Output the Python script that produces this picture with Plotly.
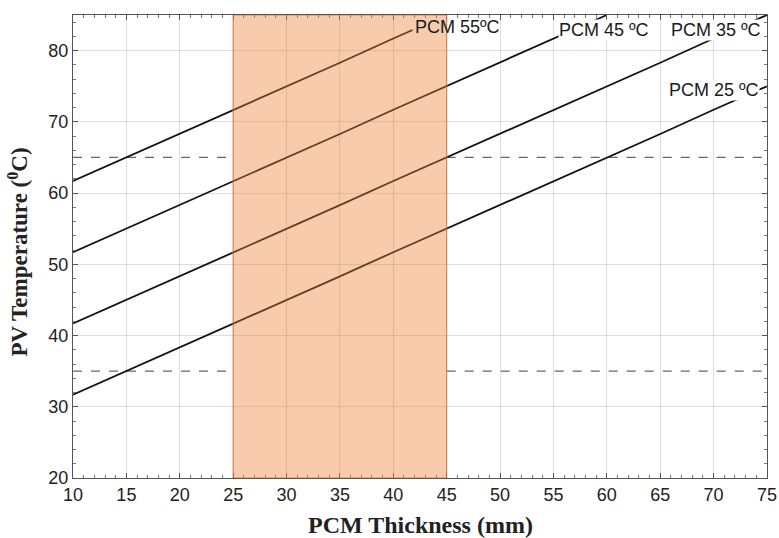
import plotly.graph_objects as go

# ---- data ----
thickness = [10, 15, 20, 25, 30, 35, 40, 45, 50, 55, 60, 65, 70, 75]
pcm25 = [31.7, 35.0, 38.3, 41.7, 45.0, 48.3, 51.7, 55.0, 58.3, 61.7, 65.0, 68.3, 71.7, 75.0]
pcm35 = [41.7, 45.0, 48.3, 51.7, 55.0, 58.3, 61.7, 65.0, 68.3, 71.7, 75.0, 78.3, 81.7, 85.0]
pcm45_x = [10, 15, 20, 25, 30, 35, 40, 45, 50, 55, 60]
pcm45 = [51.7, 55.0, 58.3, 61.7, 65.0, 68.3, 71.7, 75.0, 78.3, 81.7, 85.0]
pcm55_x = [10, 15, 20, 25, 30, 35, 40, 41.8]
pcm55 = [61.7, 65.0, 68.3, 71.7, 75.0, 78.3, 81.7, 82.9]

limits = [35, 65]            # dashed reference temperatures
optimal_range = [25, 45]     # shaded thickness range
x_range = [10, 75]
y_range = [20, 85]

labels = ["PCM 25 ºC", "PCM 35 ºC", "PCM 45 ºC", "PCM 55ºC"]
label_x = [65.7, 65.9, 55.4, 41.9]
label_y = [74.5, 82.9, 82.9, 83.3]
label_bg = ["white", "white", "white", "rgba(0,0,0,0)"]

x_title = "<b>PCM Thickness (mm)</b>"
y_title = "<b>PV Temperature (<sup>0</sup>C)</b>"

fig = go.Figure()

# dashed limit lines, interrupted by the shaded band
for lim in limits:
    fig.add_trace(go.Scatter(
        x=[x_range[0], optimal_range[0], None, optimal_range[1], x_range[1]],
        y=[lim, lim, None, lim, lim],
        mode="lines", line=dict(color="#666666", width=1.2, dash="dash"),
        showlegend=False, hoverinfo="skip"))

for xs, ys in [(thickness, pcm25), (thickness, pcm35), (pcm45_x, pcm45), (pcm55_x, pcm55)]:
    fig.add_trace(go.Scatter(x=xs, y=ys, mode="lines",
                             line=dict(color="#111111", width=1.8),
                             showlegend=False))

fig.add_shape(type="rect", xref="x", yref="y",
              x0=optimal_range[0], x1=optimal_range[1], y0=y_range[0], y1=y_range[1],
              fillcolor="rgba(237,125,49,0.40)",
              line=dict(color="rgba(205,110,55,0.75)", width=1.2),
              layer="above")

for t, lx, ly, bg in zip(labels, label_x, label_y, label_bg):
    fig.add_annotation(x=lx, y=ly, text=t, showarrow=False, xanchor="left", yanchor="middle",
                       font=dict(family="Liberation Sans, Arial", size=18, color="#1a1a1a"),
                       bgcolor=bg, borderpad=0)

title_font = dict(family="Liberation Serif, Times New Roman", size=24, color="#222222")
fig.add_annotation(xref="paper", yref="paper", x=0.5, y=0, yshift=-47, yanchor="middle",
                   text=x_title, showarrow=False, font=title_font)
fig.add_annotation(xref="paper", yref="paper", x=0, y=0.5, xshift=-55, yshift=-6,
                   xanchor="center", textangle=-90,
                   text=y_title, showarrow=False,
                   font=dict(family="Liberation Serif, Times New Roman", size=23, color="#222222"))

axis_common = dict(
    showline=True, linecolor="#555555", linewidth=1.2, mirror="ticks",
    showgrid=True, gridcolor="rgba(0,0,0,0.13)", gridwidth=1,
    ticks="inside", ticklen=5, tickcolor="#555555",
    tickfont=dict(family="Liberation Sans, Arial", size=18, color="#222222"),
    zeroline=False, automargin=False, ticklabeloverflow="allow",
)

fig.update_xaxes(range=x_range, dtick=5, tick0=10,
                 minor=dict(dtick=1, ticks="inside", ticklen=3, tickcolor="#777777", showgrid=False),
                 **axis_common)
fig.update_yaxes(range=y_range, dtick=10, tick0=20,
                 minor=dict(dtick=2, ticks="inside", ticklen=3, tickcolor="#777777", showgrid=False),
                 **axis_common)

fig.update_layout(
    width=779, height=538,
    margin=dict(l=73, r=12, t=15, b=60),
    plot_bgcolor="white", paper_bgcolor="white",
)

# remove the default 8px page margin so the figure fills the window exactly
fig.write_html("out.html", config={"displayModeBar": False},
               post_script="document.body.style.margin='0';")
